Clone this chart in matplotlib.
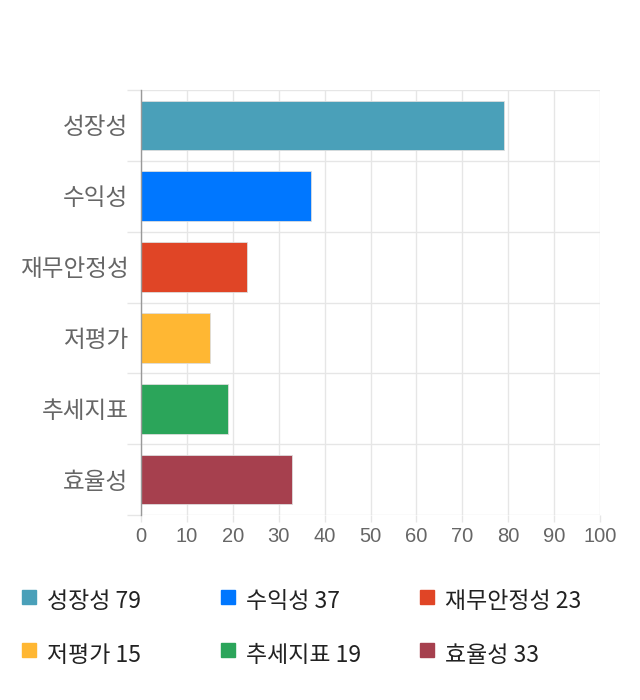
import matplotlib
matplotlib.use("Agg")
import matplotlib.pyplot as plt
from matplotlib.patches import Rectangle

plt.rcParams["font.family"] = ["Noto Sans CJK KR", "DejaVu Sans"]

# data
categories = ["성장성", "수익성", "재무안정성", "저평가", "추세지표", "효율성"]
scores = [79, 37, 23, 15, 19, 33]
colors = ["#4aa0b9", "#0077ff", "#e04526", "#ffb733", "#2ba55a", "#a6404e"]
x_ticks = [0, 10, 20, 30, 40, 50, 60, 70, 80, 90, 100]

W, H = 640, 700
fig = plt.figure(figsize=(W / 100, H / 100), dpi=100)
ax = fig.add_axes([141 / W, 1 - 515 / H, (600 - 141) / W, (515 - 90) / H])

ypos = list(range(len(categories)))
ax.barh(ypos, scores, height=0.7, color=colors, edgecolor="#dddddd", linewidth=0.6, zorder=3)

ax.set_xlim(0, 100)
ax.set_ylim(len(categories) - 0.5, -0.5)
ax.set_xticks(x_ticks)
ax.set_xticklabels([str(t) for t in x_ticks], family="Liberation Sans", fontsize=14.5, color="#666666")
ax.set_yticks(ypos)
ax.set_yticklabels(categories, fontsize=17, color="#666666")
ax.set_yticks([i - 0.5 for i in range(len(categories) + 1)], minor=True)

ax.tick_params(axis="y", which="major", length=0, pad=9)
ax.tick_params(axis="y", which="minor", length=10, color="#e6e6e6", width=1)
ax.tick_params(axis="x", length=5, color="#e6e6e6", width=1, pad=4)

ax.grid(axis="x", color="#e6e6e6", linewidth=1, zorder=0)
ax.grid(axis="y", which="minor", color="#e6e6e6", linewidth=1, zorder=0)
for s in ["top", "right", "bottom"]:
    ax.spines[s].set_visible(False)
ax.spines["left"].set_color("#999999")
ax.spines["left"].set_linewidth(1)
ax.spines["left"].set_zorder(4)

# legend, drawn by hand in 3 columns
col_x = [22, 221, 420]
row_y = [602, 655]
for i, (cat, val, c) in enumerate(zip(categories, scores, colors)):
    cx = col_x[i % 3]
    cy = row_y[i // 3]
    fig.patches.append(Rectangle((cx / W, 1 - (cy + 2) / H), 14 / W, 14 / H,
                                 transform=fig.transFigure, color=c))
    fig.text((cx + 25) / W, 1 - cy / H, f"{cat} {val}", fontsize=16.5,
             color="#222222", va="center", ha="left")

fig.savefig("out.png", dpi=100)
